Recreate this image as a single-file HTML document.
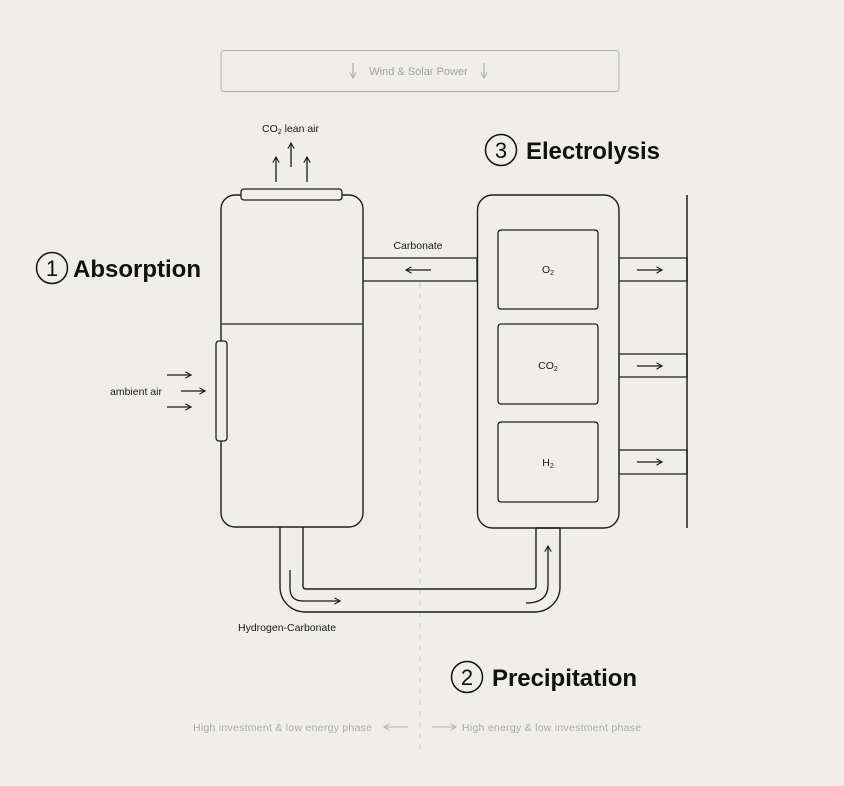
<!DOCTYPE html>
<html>
<head>
<meta charset="utf-8">
<style>
html,body{margin:0;padding:0;background:#efeeea;}
svg{display:block;}
text{font-family:"Liberation Sans",Arial,sans-serif;}
</style>
</head>
<body>
<svg width="844" height="786" viewBox="0 0 844 786" xmlns="http://www.w3.org/2000/svg">
<defs>
<marker id="ah" viewBox="0 0 10 10" refX="9" refY="5" markerWidth="8" markerHeight="8" markerUnits="userSpaceOnUse" orient="auto">
<path d="M2,1 L9,5 L2,9" fill="none" stroke="#1a1a1a" stroke-width="1.4"/>
</marker>
<marker id="ahg" viewBox="0 0 10 10" refX="9" refY="5" markerWidth="8" markerHeight="8" markerUnits="userSpaceOnUse" orient="auto">
<path d="M2,1 L9,5 L2,9" fill="none" stroke="#b0b0b0" stroke-width="1.2"/>
</marker>
</defs>
<rect width="844" height="786" fill="#efeeea"/>

<!-- Wind & Solar box -->
<rect x="221" y="50.5" width="398" height="41" rx="3" fill="none" stroke="#b8b8b5" stroke-width="1.2"/>
<line x1="353" y1="63" x2="353" y2="78" stroke="#a8a8a8" stroke-width="1.1" marker-end="url(#ahg)"/>
<line x1="484" y1="63" x2="484" y2="78" stroke="#a8a8a8" stroke-width="1.1" marker-end="url(#ahg)"/>
<text x="418.5" y="75" font-size="11" fill="#a3a3a3" text-anchor="middle">Wind &amp; Solar Power</text>

<!-- dashed divider -->
<line x1="420" y1="282" x2="420" y2="752" stroke="#cfcfcc" stroke-width="1.2" stroke-dasharray="5,6"/>

<!-- Headings -->
<circle cx="52" cy="268" r="15.5" fill="none" stroke="#111" stroke-width="1.5"/>
<text x="52" y="276" font-size="22" fill="#111" text-anchor="middle">1</text>
<text x="73" y="277" font-size="24" font-weight="bold" fill="#111" textLength="128">Absorption</text>

<circle cx="501" cy="150" r="15.5" fill="none" stroke="#111" stroke-width="1.5"/>
<text x="501" y="158" font-size="22" fill="#111" text-anchor="middle">3</text>
<text x="526" y="159" font-size="24" font-weight="bold" fill="#111" textLength="134">Electrolysis</text>

<circle cx="467" cy="677" r="15.5" fill="none" stroke="#111" stroke-width="1.5"/>
<text x="467" y="685" font-size="22" fill="#111" text-anchor="middle">2</text>
<text x="492" y="686" font-size="24" font-weight="bold" fill="#111" textLength="145">Precipitation</text>

<!-- CO2 lean air -->
<text x="262" y="132" font-size="10.5" fill="#1a1a1a">CO<tspan font-size="7" dy="2">2</tspan><tspan dy="-2"> lean air</tspan></text>
<line x1="276" y1="182" x2="276" y2="157" stroke="#1a1a1a" stroke-width="1.3" marker-end="url(#ah)"/>
<line x1="291" y1="167" x2="291" y2="143" stroke="#1a1a1a" stroke-width="1.3" marker-end="url(#ah)"/>
<line x1="307" y1="182" x2="307" y2="157" stroke="#1a1a1a" stroke-width="1.3" marker-end="url(#ah)"/>

<!-- Absorber -->
<rect x="221" y="195" width="142" height="332" rx="14" fill="none" stroke="#1f1f1f" stroke-width="1.4"/>
<line x1="221" y1="324" x2="363" y2="324" stroke="#444" stroke-width="1.6"/>
<rect x="241" y="189" width="101" height="11" rx="3" fill="#efeeea" stroke="#1f1f1f" stroke-width="1.3"/>
<rect x="216" y="341" width="11" height="100" rx="3" fill="#efeeea" stroke="#1f1f1f" stroke-width="1.3"/>

<!-- ambient air -->
<text x="110" y="395" font-size="10.5" fill="#1a1a1a">ambient air</text>
<line x1="167" y1="375" x2="191" y2="375" stroke="#1a1a1a" stroke-width="1.3" marker-end="url(#ah)"/>
<line x1="181" y1="391" x2="205" y2="391" stroke="#1a1a1a" stroke-width="1.3" marker-end="url(#ah)"/>
<line x1="167" y1="407" x2="191" y2="407" stroke="#1a1a1a" stroke-width="1.3" marker-end="url(#ah)"/>

<!-- Carbonate pipe -->
<text x="418" y="249" font-size="10.5" fill="#1a1a1a" text-anchor="middle">Carbonate</text>
<rect x="363" y="258" width="114" height="23" fill="none" stroke="#333" stroke-width="1.4"/>
<line x1="431" y1="270" x2="406" y2="270" stroke="#1a1a1a" stroke-width="1.3" marker-end="url(#ah)"/>

<!-- Electrolyser -->
<rect x="477.5" y="195" width="141.5" height="333" rx="15" fill="none" stroke="#1f1f1f" stroke-width="1.4"/>
<rect x="498" y="230" width="100" height="79" rx="3" fill="none" stroke="#1f1f1f" stroke-width="1.3"/>
<rect x="498" y="324" width="100" height="80" rx="3" fill="none" stroke="#1f1f1f" stroke-width="1.3"/>
<rect x="498" y="422" width="100" height="80" rx="3" fill="none" stroke="#1f1f1f" stroke-width="1.3"/>
<text x="548" y="273" font-size="10.5" fill="#1a1a1a" text-anchor="middle">O<tspan font-size="7" dy="2">2</tspan></text>
<text x="548" y="369" font-size="10.5" fill="#1a1a1a" text-anchor="middle">CO<tspan font-size="7" dy="2">2</tspan></text>
<text x="548" y="466" font-size="10.5" fill="#1a1a1a" text-anchor="middle">H<tspan font-size="7" dy="2">2</tspan></text>

<!-- output pipes -->
<rect x="619" y="258" width="68" height="23" fill="none" stroke="#333" stroke-width="1.4"/>
<rect x="619" y="354" width="68" height="23" fill="none" stroke="#333" stroke-width="1.4"/>
<rect x="619" y="450" width="68" height="24" fill="none" stroke="#333" stroke-width="1.4"/>
<line x1="637" y1="270" x2="662" y2="270" stroke="#1a1a1a" stroke-width="1.3" marker-end="url(#ah)"/>
<line x1="637" y1="366" x2="662" y2="366" stroke="#1a1a1a" stroke-width="1.3" marker-end="url(#ah)"/>
<line x1="637" y1="462" x2="662" y2="462" stroke="#1a1a1a" stroke-width="1.3" marker-end="url(#ah)"/>
<line x1="687" y1="195" x2="687" y2="528" stroke="#1f1f1f" stroke-width="1.5"/>

<!-- U pipe -->
<path d="M280,527 L280,587 A25,25 0 0 0 305,612 L535,612 A25,25 0 0 0 560,587 L560,528" fill="none" stroke="#1f1f1f" stroke-width="1.4"/>
<path d="M303,527 L303,586 Q303,589 306,589 L533,589 Q536,589 536,586 L536,528" fill="none" stroke="#1f1f1f" stroke-width="1.4"/>
<line x1="536" y1="528" x2="560" y2="528" stroke="#1f1f1f" stroke-width="1.4"/>
<path d="M290,570 L290,588 Q290,601 303,601 L340,601" fill="none" stroke="#1a1a1a" stroke-width="1.3" marker-end="url(#ah)"/>
<path d="M526,603 Q548,603 548,585 L548,546" fill="none" stroke="#1a1a1a" stroke-width="1.3" marker-end="url(#ah)"/>
<text x="238" y="631" font-size="10.5" fill="#1a1a1a">Hydrogen-Carbonate</text>

<!-- phases -->
<text x="193" y="731" font-size="10.5" fill="#ababab" textLength="179">High investment &amp; low energy phase</text>
<line x1="408" y1="727" x2="384" y2="727" stroke="#b0b0b0" stroke-width="1.1" marker-end="url(#ahg)"/>
<line x1="432" y1="727" x2="456" y2="727" stroke="#b0b0b0" stroke-width="1.1" marker-end="url(#ahg)"/>
<text x="462" y="731" font-size="10.5" fill="#ababab" textLength="179">High energy &amp; low investment phase</text>
</svg>
</body>
</html>
